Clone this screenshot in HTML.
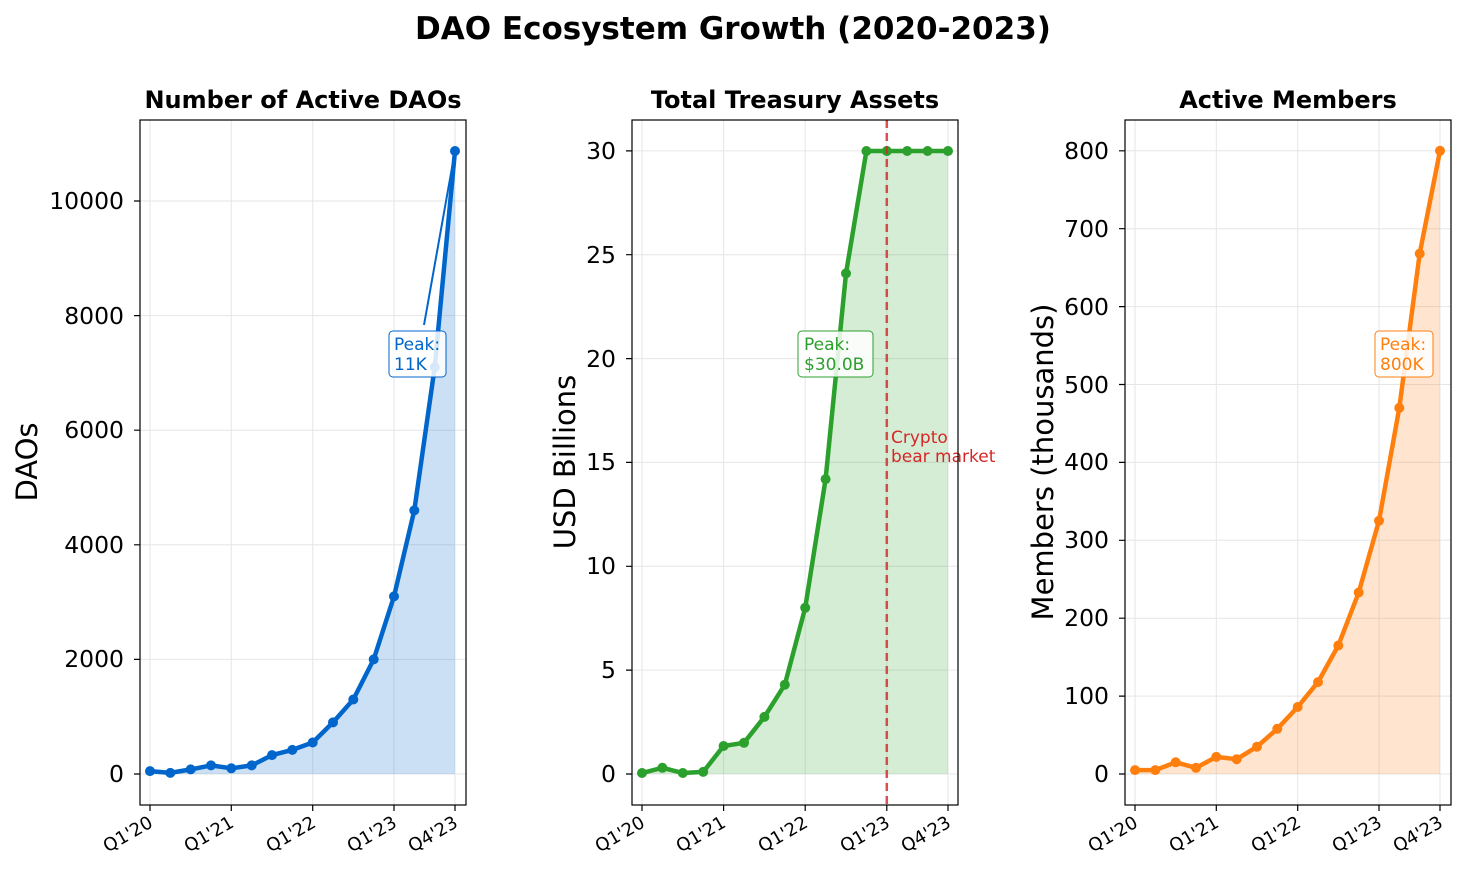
<!DOCTYPE html><html><head><meta charset="utf-8"><style>body{margin:0;background:#fff}svg{display:block;font-family:"DejaVu Sans","Liberation Sans",sans-serif}</style></head><body>
<svg width="1467" height="880" viewBox="0 0 1467 880" xmlns="http://www.w3.org/2000/svg">
<text x="733" y="39" text-anchor="middle" font-size="31" font-weight="bold">DAO Ecosystem Growth (2020-2023)</text>
<g stroke="#e6e6e6" stroke-width="1">
<path d="M150 120V805M231.3 120V805M312.7 120V805M394 120V805M455 120V805M140 774H466M140 659.4H466M140 544.8H466M140 430.2H466M140 315.6H466M140 201H466"/>
<path d="M642 120V805M723.6 120V805M805.2 120V805M886.8 120V805M948 120V805M632 774H958M632 670.1H958M632 566.3H958M632 462.4H958M632 358.6H958M632 254.7H958M632 150.9H958"/>
<path d="M1135 120V805M1216.3 120V805M1297.7 120V805M1379 120V805M1440 120V805M1125 774H1451M1125 696.1H1451M1125 618.2H1451M1125 540.3H1451M1125 462.4H1451M1125 384.5H1451M1125 306.6H1451M1125 228.7H1451M1125 150.8H1451"/>
</g>
<polygon fill="#0066cc" fill-opacity="0.2" points="150,774 150,771.1 170.3,772.9 190.7,769.4 211,765.4 231.3,768.3 251.7,765.4 272,755.1 292.3,749.9 312.7,742.5 333,722.4 353.3,699.5 373.7,659.4 394,596.4 414.3,510.4 434.7,367.2 455,151 455,774"/>
<polyline fill="none" stroke="#0066cc" stroke-width="4.5" stroke-linejoin="round" points="150,771.1 170.3,772.9 190.7,769.4 211,765.4 231.3,768.3 251.7,765.4 272,755.1 292.3,749.9 312.7,742.5 333,722.4 353.3,699.5 373.7,659.4 394,596.4 414.3,510.4 434.7,367.2 455,151"/>
<g fill="#0066cc"><circle cx="150" cy="771.1" r="5"/><circle cx="170.3" cy="772.9" r="5"/><circle cx="190.7" cy="769.4" r="5"/><circle cx="211" cy="765.4" r="5"/><circle cx="231.3" cy="768.3" r="5"/><circle cx="251.7" cy="765.4" r="5"/><circle cx="272" cy="755.1" r="5"/><circle cx="292.3" cy="749.9" r="5"/><circle cx="312.7" cy="742.5" r="5"/><circle cx="333" cy="722.4" r="5"/><circle cx="353.3" cy="699.5" r="5"/><circle cx="373.7" cy="659.4" r="5"/><circle cx="394" cy="596.4" r="5"/><circle cx="414.3" cy="510.4" r="5"/><circle cx="434.7" cy="367.2" r="5"/><circle cx="455" cy="151" r="5"/></g>
<line x1="424" y1="325" x2="453" y2="162" stroke="#0066cc" stroke-width="2"/>
<rect x="389" y="331" width="57" height="46" rx="4" fill="#fff" fill-opacity="0.85" stroke="#0066cc"/>
<text x="394" y="350" font-size="17" fill="#0066cc">Peak:</text><text x="394" y="370" font-size="17" fill="#0066cc">11K</text>
<rect x="140" y="120" width="326" height="685" fill="none" stroke="#000" stroke-width="1.2"/>
<text x="303" y="108" text-anchor="middle" font-size="24" font-weight="bold">Number of Active DAOs</text>
<g font-size="23.5" text-anchor="end"><text x="124" y="782">0</text><text x="124" y="667">2000</text><text x="124" y="553">4000</text><text x="124" y="438">6000</text><text x="124" y="324">8000</text><text x="124" y="209">10000</text></g>
<text transform="translate(37,462) rotate(-90)" text-anchor="middle" font-size="29">DAOs</text>
<polygon fill="#2ca02c" fill-opacity="0.2" points="642,774 642,773 662.4,767.8 682.8,773 703.2,771.9 723.6,746 744,742.8 764.4,716.9 784.8,684.7 805.2,607.8 825.6,479.1 846,273.4 866.4,151 886.8,151 907.2,151 927.6,151 948,151 948,774"/>
<polyline fill="none" stroke="#2ca02c" stroke-width="4.5" stroke-linejoin="round" points="642,773 662.4,767.8 682.8,773 703.2,771.9 723.6,746 744,742.8 764.4,716.9 784.8,684.7 805.2,607.8 825.6,479.1 846,273.4 866.4,151 886.8,151 907.2,151 927.6,151 948,151"/>
<g fill="#2ca02c"><circle cx="642" cy="773" r="5"/><circle cx="662.4" cy="767.8" r="5"/><circle cx="682.8" cy="773" r="5"/><circle cx="703.2" cy="771.9" r="5"/><circle cx="723.6" cy="746" r="5"/><circle cx="744" cy="742.8" r="5"/><circle cx="764.4" cy="716.9" r="5"/><circle cx="784.8" cy="684.7" r="5"/><circle cx="805.2" cy="607.8" r="5"/><circle cx="825.6" cy="479.1" r="5"/><circle cx="846" cy="273.4" r="5"/><circle cx="866.4" cy="151" r="5"/><circle cx="886.8" cy="151" r="5"/><circle cx="907.2" cy="151" r="5"/><circle cx="927.6" cy="151" r="5"/><circle cx="948" cy="151" r="5"/></g>
<line x1="886.8" y1="120" x2="886.8" y2="805" stroke="#d62728" stroke-width="2.5" stroke-dasharray="8,5" opacity="0.8"/>
<text x="891" y="443" font-size="17" fill="#d62728">Crypto</text><text x="891" y="462" font-size="17" fill="#d62728">bear market</text>
<rect x="798" y="331" width="75" height="46" rx="4" fill="#fff" fill-opacity="0.85" stroke="#2ca02c"/>
<text x="804" y="350" font-size="17" fill="#2ca02c">Peak:</text><text x="804" y="370" font-size="17" fill="#2ca02c">$30.0B</text>
<rect x="632" y="120" width="326" height="685" fill="none" stroke="#000" stroke-width="1.2"/>
<text x="795" y="108" text-anchor="middle" font-size="24" font-weight="bold">Total Treasury Assets</text>
<g font-size="23.5" text-anchor="end"><text x="616" y="782">0</text><text x="616" y="678">5</text><text x="616" y="574">10</text><text x="616" y="470">15</text><text x="616" y="367">20</text><text x="616" y="263">25</text><text x="616" y="159">30</text></g>
<text transform="translate(575,462) rotate(-90)" text-anchor="middle" font-size="29">USD Billions</text>
<polygon fill="#ff7f0e" fill-opacity="0.2" points="1135,774 1135,770.1 1155.3,770.1 1175.7,762.3 1196,767.8 1216.3,756.9 1236.7,759.2 1257,746.7 1277.3,728.8 1297.7,707 1318,682.1 1338.3,645.5 1358.7,592.5 1379,520.8 1399.3,407.9 1419.7,253.6 1440,150.8 1440,774"/>
<polyline fill="none" stroke="#ff7f0e" stroke-width="4.5" stroke-linejoin="round" points="1135,770.1 1155.3,770.1 1175.7,762.3 1196,767.8 1216.3,756.9 1236.7,759.2 1257,746.7 1277.3,728.8 1297.7,707 1318,682.1 1338.3,645.5 1358.7,592.5 1379,520.8 1399.3,407.9 1419.7,253.6 1440,150.8"/>
<g fill="#ff7f0e"><circle cx="1135" cy="770.1" r="5"/><circle cx="1155.3" cy="770.1" r="5"/><circle cx="1175.7" cy="762.3" r="5"/><circle cx="1196" cy="767.8" r="5"/><circle cx="1216.3" cy="756.9" r="5"/><circle cx="1236.7" cy="759.2" r="5"/><circle cx="1257" cy="746.7" r="5"/><circle cx="1277.3" cy="728.8" r="5"/><circle cx="1297.7" cy="707" r="5"/><circle cx="1318" cy="682.1" r="5"/><circle cx="1338.3" cy="645.5" r="5"/><circle cx="1358.7" cy="592.5" r="5"/><circle cx="1379" cy="520.8" r="5"/><circle cx="1399.3" cy="407.9" r="5"/><circle cx="1419.7" cy="253.6" r="5"/><circle cx="1440" cy="150.8" r="5"/></g>
<rect x="1375" y="331" width="58" height="46" rx="4" fill="#fff" fill-opacity="0.85" stroke="#ff7f0e"/>
<text x="1380" y="350" font-size="17" fill="#ff7f0e">Peak:</text><text x="1380" y="370" font-size="17" fill="#ff7f0e">800K</text>
<rect x="1125" y="120" width="326" height="685" fill="none" stroke="#000" stroke-width="1.2"/>
<text x="1288" y="108" text-anchor="middle" font-size="24" font-weight="bold">Active Members</text>
<g font-size="23.5" text-anchor="end"><text x="1109" y="782">0</text><text x="1109" y="704">100</text><text x="1109" y="626">200</text><text x="1109" y="548">300</text><text x="1109" y="470">400</text><text x="1109" y="393">500</text><text x="1109" y="315">600</text><text x="1109" y="237">700</text><text x="1109" y="159">800</text></g>
<text transform="translate(1053,462) rotate(-90)" text-anchor="middle" font-size="29">Members (thousands)</text>
<g stroke="#000" stroke-width="1.2">
<path d="M150 805v6M231.3 805v6M312.7 805v6M394 805v6M455 805v6M134 774h6M134 659.4h6M134 544.8h6M134 430.2h6M134 315.6h6M134 201h6"/>
<path d="M642 805v6M723.6 805v6M805.2 805v6M886.8 805v6M948 805v6M626 774h6M626 670.1h6M626 566.3h6M626 462.4h6M626 358.6h6M626 254.7h6M626 150.9h6"/>
<path d="M1135 805v6M1216.3 805v6M1297.7 805v6M1379 805v6M1440 805v6M1119 774h6M1119 696.1h6M1119 618.2h6M1119 540.3h6M1119 462.4h6M1119 384.5h6M1119 306.6h6M1119 228.7h6M1119 150.8h6"/>
</g>
<g font-size="18" text-anchor="end">
<text transform="translate(154,826) rotate(-30)">Q1'20</text><text transform="translate(235,826) rotate(-30)">Q1'21</text><text transform="translate(317,826) rotate(-30)">Q1'22</text><text transform="translate(398,826) rotate(-30)">Q1'23</text><text transform="translate(459,826) rotate(-30)">Q4'23</text>
<text transform="translate(646,826) rotate(-30)">Q1'20</text><text transform="translate(727,826) rotate(-30)">Q1'21</text><text transform="translate(809,826) rotate(-30)">Q1'22</text><text transform="translate(891,826) rotate(-30)">Q1'23</text><text transform="translate(952,826) rotate(-30)">Q4'23</text>
<text transform="translate(1139,826) rotate(-30)">Q1'20</text><text transform="translate(1220,826) rotate(-30)">Q1'21</text><text transform="translate(1302,826) rotate(-30)">Q1'22</text><text transform="translate(1383,826) rotate(-30)">Q1'23</text><text transform="translate(1444,826) rotate(-30)">Q4'23</text>
</g>
</svg>
</body></html>
